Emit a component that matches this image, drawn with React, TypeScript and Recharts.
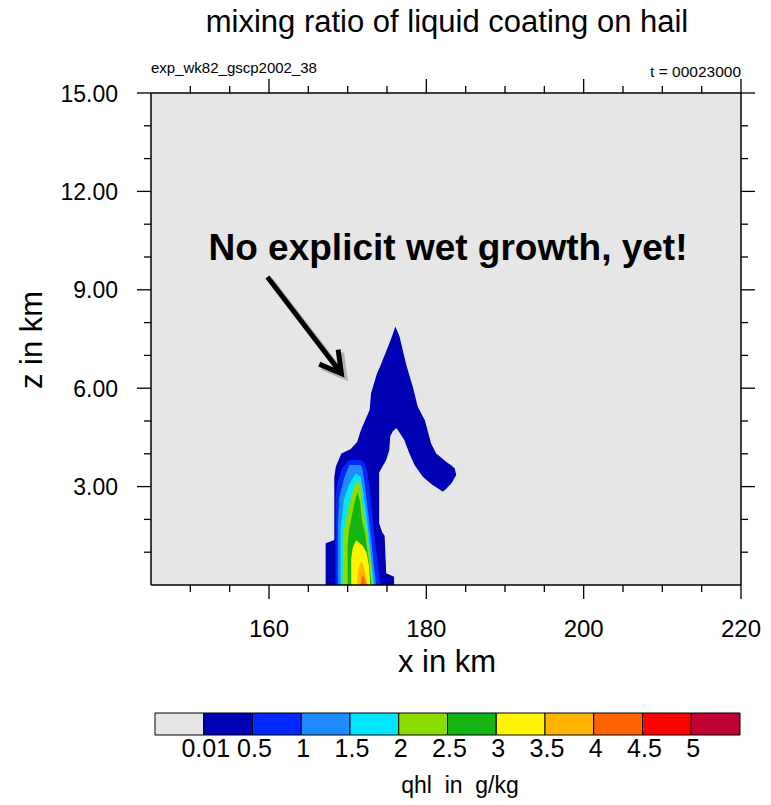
import React from 'react';
import { ComposedChart, Area, Bar, XAxis, YAxis, CartesianGrid, ReferenceLine } from 'recharts';

const FONT = '"Liberation Sans", Arial, Helvetica, sans-serif';

// contour levels of qhl in g/kg, and the colour of every band of the label bar
const levelLabels = ['0.01', '0.5', '1', '1.5', '2', '2.5', '3', '3.5', '4', '4.5', '5'];
const bandColors = [
  '#e6e6e6', '#0000b4', '#0028ff', '#1e8cff', '#00e6ff', '#8cdc00',
  '#14b414', '#fff500', '#ffb400', '#ff6400', '#ff0000', '#c00032',
];

const xTicks = [150, 155, 160, 165, 170, 175, 180, 185, 190, 195, 200, 205, 210, 215, 220];
const zTicks = [1, 2, 3, 4, 5, 6, 7, 8, 9, 10, 11, 12, 13, 14, 15];

// filled contour outlines as [x km, z bottom km, z top km]
const q001Column = [
  [167.2, 0, 0], [167.2, 0, 1.27], [168.3, 0, 1.37], [168.3, 0, 3.3], [168.5, 0, 3.61],
  [169.2, 0, 4.01], [170.4, 0, 4.15], [171.2, 0, 4.36], [171.7, 0, 4.73], [172.8, 0, 5.34],
  [172.97, 0, 5.84], [173.6, 0, 6.35], [174.0, 0, 6.59], [174.0, 0, 1.88], [174.4, 0, 1.6],
  [174.7, 0, 1.5], [174.9, 0, 0.36], [175.9, 0, 0.25], [175.9, 0, 0],
];
const q001Plume = [
  [173.7, 3.3, 6.41], [174.2, 3.51, 6.71], [174.45, 3.62, 6.86], [174.9, 3.81, 7.13],
  [175.3, 4.12, 7.37], [175.4, 4.52, 7.43], [175.7, 4.67, 7.62], [176.07, 4.76, 7.88],
  [176.2, 4.78, 7.8], [176.36, 4.73, 7.71], [176.6, 4.64, 7.57], [177.2, 4.42, 6.96],
  [177.4, 4.29, 6.76], [177.85, 4.01, 6.39], [178.27, 3.78, 6.05], [178.5, 3.66, 5.83],
  [178.9, 3.52, 5.44], [179.55, 3.3, 5.14], [179.8, 3.25, 5.03], [180.6, 3.09, 4.32],
  [180.8, 3.05, 4.22], [181.25, 2.98, 4.01], [182.1, 2.84, 3.84], [182.5, 2.93, 3.76],
  [183.2, 3.1, 3.64], [183.6, 3.27, 3.56], [183.8, 3.35, 3.35],
];
const q05 = [
  [168.45, 0, 0], [168.45, 0, 2.64], [168.7, 0, 3.15], [169.3, 0, 3.56], [170.2, 0, 3.81],
  [171.6, 0, 3.81], [172.1, 0, 3.76], [172.5, 0, 3.45], [172.8, 0, 2.95], [173.2, 0, 2.0],
  [173.5, 0, 1.3], [173.9, 0, 0.5], [174.2, 0, 0],
];
const q1 = [
  [168.75, 0, 0], [168.75, 0, 1.7], [168.9, 0, 2.64], [169.54, 0, 3.25], [170.2, 0, 3.66],
  [171.65, 0, 3.66], [171.87, 0, 3.56], [172.2, 0, 3.0], [172.6, 0, 2.2], [172.9, 0, 1.6],
  [173.2, 0, 0.9], [173.6, 0, 0],
];
const q15 = [
  [169.1, 0, 0], [169.1, 0, 1.68], [169.54, 0, 2.64], [170.17, 0, 3.05], [171.02, 0, 3.4],
  [171.65, 0, 3.3], [172.0, 0, 2.8], [172.4, 0, 2.1], [172.7, 0, 1.5], [173.0, 0, 0.8],
  [173.35, 0, 0],
];
const q2 = [
  [169.35, 0, 0], [169.4, 0, 1.2], [169.54, 0, 1.68], [169.96, 0, 2.23], [170.6, 0, 2.84],
  [171.23, 0, 3.2], [171.6, 0, 3.1], [171.8, 0, 2.6], [172.2, 0, 2.0], [172.5, 0, 1.5],
  [172.9, 0, 0.8], [173.2, 0, 0],
];
const q25 = [
  [170.0, 0, 0], [170.0, 0, 1.2], [170.17, 0, 1.68], [170.38, 0, 1.93], [170.81, 0, 2.44],
  [171.23, 0, 2.84], [171.58, 0, 2.54], [171.8, 0, 2.0], [172.2, 0, 1.6], [172.6, 0, 0.9],
  [173.05, 0, 0],
];
const q3 = [
  [170.45, 0, 0], [170.45, 0, 0.8], [170.63, 0, 1.12], [171.07, 0, 1.37], [171.27, 0, 1.32],
  [171.9, 0, 1.2], [172.4, 0, 0.98], [172.7, 0, 0.6], [172.9, 0, 0],
];
const q35 = [
  [171.2, 0, 0], [171.35, 0, 0.45], [171.65, 0, 0.71], [171.9, 0, 0.65], [172.2, 0, 0.4],
  [172.55, 0, 0],
];
const q4 = [
  [171.65, 0, 0], [171.8, 0, 0.22], [171.95, 0, 0.3], [172.1, 0, 0.22], [172.35, 0, 0],
];

// annotation arrow, in data coordinates (x km, z km)
const arrowFrom = { x: 159.8, y: 9.39 };
const arrowTo = { x: 169.2, y: 6.45 };

const contours = [
  { id: 'q001c', pts: q001Column, color: bandColors[1] },
  { id: 'q001p', pts: q001Plume, color: bandColors[1] },
  { id: 'q05', pts: q05, color: bandColors[2] },
  { id: 'q1', pts: q1, color: bandColors[3] },
  { id: 'q15', pts: q15, color: bandColors[4] },
  { id: 'q2', pts: q2, color: bandColors[5] },
  { id: 'q25', pts: q25, color: bandColors[6] },
  { id: 'q3', pts: q3, color: bandColors[7] },
  { id: 'q35', pts: q35, color: bandColors[8] },
  { id: 'q4', pts: q4, color: bandColors[9] },
].map((c) => ({ ...c, data: c.pts.map(([x, lo, hi]) => ({ x, z: [lo, hi] })) }));

const barRow: { [k: string]: number | string } = { name: 'qhl' };
bandColors.forEach((_, i) => { barRow['b' + i] = 1; });

const MAJOR = 14;
const MINOR = 7;
const tickStroke = { stroke: '#000', strokeWidth: 1.3 };

function BottomTick({ x, y, payload }: any) {
  const major = payload.value % 20 === 0;
  return (
    <g>
      <line x1={x} y1={y} x2={x} y2={y + (major ? MAJOR : MINOR)} {...tickStroke} />
      {major && (
        <text x={x} y={y + 52} textAnchor="middle" fontSize={24} fontFamily={FONT} fill="#000">
          {payload.value}
        </text>
      )}
    </g>
  );
}

function TopTick({ x, y, payload }: any) {
  const major = payload.value % 20 === 0;
  return <line x1={x} y1={y} x2={x} y2={y - (major ? MAJOR : MINOR)} {...tickStroke} />;
}

function LeftTick({ x, y, payload }: any) {
  const major = payload.value % 3 === 0;
  return (
    <g>
      <line x1={x} y1={y} x2={x - (major ? MAJOR : MINOR)} y2={y} {...tickStroke} />
      {major && (
        <text x={x - 33} y={y + 8.5} textAnchor="end" fontSize={23} fontFamily={FONT} fill="#000">
          {payload.value.toFixed(2)}
        </text>
      )}
    </g>
  );
}

function RightTick({ x, y, payload }: any) {
  const major = payload.value % 3 === 0;
  return <line x1={x} y1={y} x2={x + (major ? MAJOR : MINOR)} y2={y} {...tickStroke} />;
}

function BarTick({ x, y, payload }: any) {
  return (
    <text x={x + 2} y={y + 22} textAnchor="middle" fontSize={25} fontFamily={FONT} fill="#000">
      {levelLabels[payload.value - 1]}
    </text>
  );
}

function ArrowShape(props: any) {
  const { x1, y1, x2, y2 } = props;
  const a = Math.atan2(y1 - y2, x1 - x2);
  const len = 24;
  const w1 = { x: x2 + len * Math.cos(a + 0.52), y: y2 + len * Math.sin(a + 0.52) };
  const w2 = { x: x2 + len * Math.cos(a - 0.52), y: y2 + len * Math.sin(a - 0.52) };
  const d = `M${x1},${y1}L${x2},${y2}M${w1.x},${w1.y}L${x2},${y2}L${w2.x},${w2.y}`;
  return (
    <g>
      <path d={d} transform="translate(3,3)" fill="none" stroke="#000" strokeOpacity={0.22} strokeWidth={6} />
      <path d={d} fill="none" stroke="#000" strokeWidth={5} strokeLinejoin="miter" />
    </g>
  );
}

const axisLine = { stroke: '#000', strokeWidth: 1.5 };

export default function App() {
  return (
    <div style={{ position: 'absolute', left: 0, top: 0, width: 771, height: 805, background: '#fff' }}>
      <div style={{ position: 'absolute', left: 0, top: 0 }}>
        <ComposedChart width={771} height={805} margin={{ top: 63, right: 0, bottom: 190, left: 91 }}>
          <CartesianGrid fill="#e6e6e6" stroke="none" horizontal={false} vertical={false} />
          <XAxis xAxisId={0} type="number" dataKey="x" domain={[145, 220]} allowDataOverflow ticks={xTicks}
            interval={0} tickSize={0} tickMargin={0} tickLine={false} axisLine={axisLine} height={30} tick={<BottomTick />} />
          <XAxis xAxisId="top" orientation="top" type="number" dataKey="x" domain={[145, 220]} allowDataOverflow ticks={xTicks}
            interval={0} tickSize={0} tickMargin={0} tickLine={false} axisLine={axisLine} height={30} tick={<TopTick />} />
          <YAxis yAxisId={0} type="number" domain={[0, 15]} allowDataOverflow ticks={zTicks}
            interval={0} tickSize={0} tickMargin={0} tickLine={false} axisLine={axisLine} width={60} tick={<LeftTick />} />
          <YAxis yAxisId="right" orientation="right" type="number" domain={[0, 15]} allowDataOverflow ticks={zTicks}
            interval={0} tickSize={0} tickMargin={0} tickLine={false} axisLine={axisLine} width={30} tick={<RightTick />} />
          {contours.map((c) => (
            <Area key={c.id} data={c.data} dataKey="z" type="linear" xAxisId={0} yAxisId={0}
              stroke="none" fill={c.color} fillOpacity={1} dot={false} activeDot={false} isAnimationActive={false} />
          ))}
          <ReferenceLine xAxisId={0} yAxisId={0} segment={[arrowFrom, arrowTo]} shape={ArrowShape} />
        </ComposedChart>
      </div>

      <div style={{ position: 'absolute', left: 0, top: 700 }}>
        <ComposedChart layout="vertical" width={771} height={70} data={[barRow]}
          margin={{ top: 13, right: 31, bottom: 0, left: 155 }} barCategoryGap={0}>
          <XAxis type="number" domain={[0, 12]} ticks={[1, 2, 3, 4, 5, 6, 7, 8, 9, 10, 11]} interval={0}
            tickSize={0} tickMargin={0} tickLine={false} axisLine={false} height={35} tick={<BarTick />} />
          <YAxis type="category" dataKey="name" hide />
          {bandColors.map((c, i) => (
            <Bar key={i} dataKey={'b' + i} stackId="cb" fill={c} stroke="#000" strokeWidth={1} isAnimationActive={false} />
          ))}
        </ComposedChart>
      </div>

      <svg width={771} height={805} style={{ position: 'absolute', left: 0, top: 0, pointerEvents: 'none' }}
        fontFamily={FONT} fill="#000">
        <text x={447} y={32} fontSize={31} textAnchor="middle">mixing ratio of liquid coating on hail</text>
        <text x={151} y={73} fontSize={15}>exp_wk82_gscp2002_38</text>
        <text x={741} y={77} fontSize={15.5} textAnchor="end">t = 00023000</text>
        <text x={448} y={260} fontSize={37} fontWeight="bold" textAnchor="middle">No explicit wet growth, yet!</text>
        <text transform="translate(42,340) rotate(-90)" fontSize={31} textAnchor="middle">z in km</text>
        <text x={447} y={672} fontSize={31} textAnchor="middle">x in km</text>
        <text x={460} y={793} fontSize={23} textAnchor="middle" style={{ whiteSpace: 'pre' }}>qhl  in  g/kg</text>
      </svg>
    </div>
  );
}
